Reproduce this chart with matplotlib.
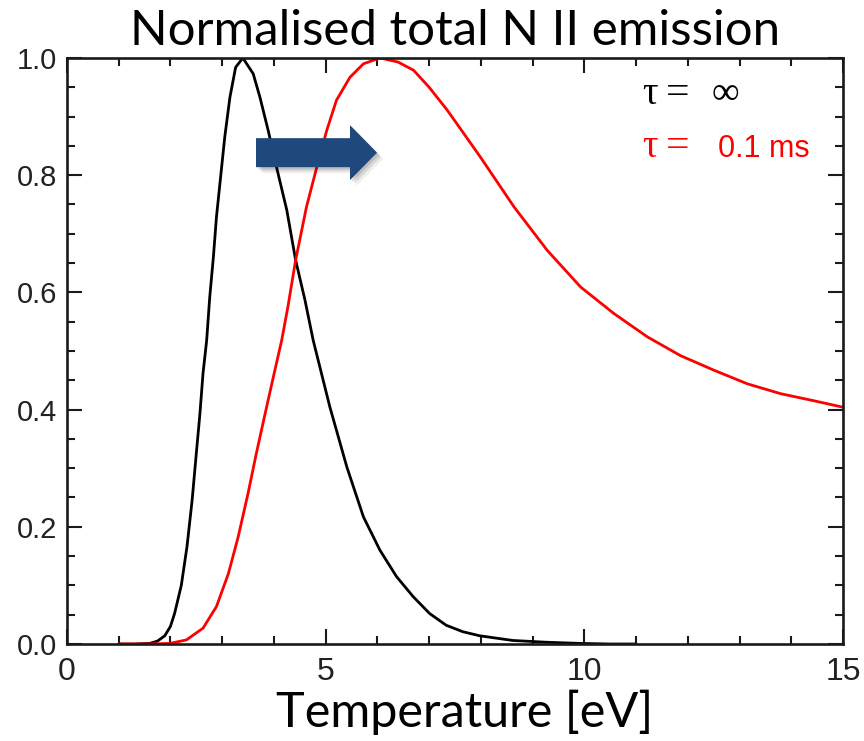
import matplotlib
matplotlib.use("Agg")
import matplotlib.pyplot as plt
import matplotlib.patches as mpatches
import matplotlib.patheffects as pe
from matplotlib import font_manager
from matplotlib.ticker import MultipleLocator

# Normalised total N II emission vs electron temperature
temp_inf = [1.0, 1.3, 1.6, 1.75, 1.89, 2.0, 2.08, 2.21, 2.32, 2.42, 2.50, 2.57,
            2.63, 2.70, 2.76, 2.83, 2.89, 2.97, 3.05, 3.15, 3.26, 3.40, 3.60,
            3.73, 3.89, 4.05, 4.25, 4.42, 4.60, 4.76, 5.08, 5.41, 5.73, 6.05,
            6.37, 6.69, 7.01, 7.33, 7.65, 7.98, 8.62, 9.27, 9.91, 10.5, 11.0]
emis_inf = [0.0, 0.0, 0.001, 0.005, 0.014, 0.030, 0.052, 0.100, 0.166, 0.246,
            0.325, 0.393, 0.462, 0.518, 0.592, 0.660, 0.729, 0.797, 0.865,
            0.933, 0.984, 1.0, 0.973, 0.933, 0.876, 0.814, 0.740, 0.655,
            0.587, 0.518, 0.405, 0.302, 0.217, 0.160, 0.115, 0.081, 0.052,
            0.032, 0.021, 0.014, 0.006, 0.003, 0.001, 0.0, 0.0]

temp_01ms = [1.0, 1.5, 1.99, 2.31, 2.63, 2.89, 3.12, 3.31, 3.50, 3.66, 3.83,
             3.99, 4.15, 4.27, 4.42, 4.63, 4.83, 5.02, 5.21, 5.47, 5.73, 6.05,
             6.40, 6.70, 7.00, 7.35, 7.99, 8.64, 9.28, 9.93, 10.57, 11.22,
             11.86, 12.51, 13.15, 13.80, 14.44, 15.0]
emis_01ms = [0.0, 0.0, 0.001, 0.007, 0.027, 0.064, 0.120, 0.183, 0.257, 0.325,
             0.393, 0.456, 0.518, 0.575, 0.655, 0.746, 0.814, 0.876, 0.928,
             0.967, 0.990, 1.0, 0.993, 0.979, 0.950, 0.911, 0.831, 0.746,
             0.672, 0.609, 0.564, 0.524, 0.492, 0.467, 0.444, 0.427, 0.415,
             0.404]

x_ticks = [0, 5, 10, 15]
y_ticks = [0.0, 0.2, 0.4, 0.6, 0.8, 1.0]
y_tick_labels = ["0.0", "0.2", "0.4", "0.6", "0.8", "1.0"]


def pick_font(candidates):
    for name in candidates:
        try:
            font_manager.findfont(font_manager.FontProperties(family=name),
                                  fallback_to_default=False)
            return name
        except Exception:
            continue
    return "DejaVu Sans"


sans = pick_font(["Liberation Sans", "DejaVu Sans"])
narrow = pick_font(["Liberation Sans Narrow", "Liberation Sans"])
serif = pick_font(["Liberation Serif", "DejaVu Serif"])
heading = pick_font(["Lato", "Open Sans", "DejaVu Sans"])

fig = plt.figure(figsize=(8.64, 7.41), dpi=100)
ax = fig.add_axes([0.0775, 0.1309, 0.8982, 0.7909])

ax.plot(temp_inf, emis_inf, color="black", lw=2.0,
        solid_joinstyle="round", solid_capstyle="round")
ax.plot(temp_01ms, emis_01ms, color="#ff0000", lw=2.0,
        solid_joinstyle="round", solid_capstyle="round")

ax.set_xlim(0, 15)
ax.set_ylim(0, 1.0)
ax.set_xticks(x_ticks)
ax.set_yticks(y_ticks)
ax.set_yticklabels(y_tick_labels)
ax.xaxis.set_minor_locator(MultipleLocator(1))
ax.yaxis.set_minor_locator(MultipleLocator(0.05))

for s in ax.spines.values():
    s.set_linewidth(1.9)
    s.set_color("#1a1a1a")

ax.tick_params(which="both", direction="in", top=True, right=True,
               width=1.5, color="#1a1a1a")
ax.tick_params(which="major", length=11)
ax.tick_params(which="minor", length=6)
ax.tick_params(axis="y", which="major", pad=7, labelsize=21)
ax.tick_params(axis="x", which="major", pad=9, labelsize=23)
for lab in ax.get_yticklabels():
    lab.set_family(sans)
    lab.set_color("#222222")
for lab in ax.get_xticklabels():
    lab.set_family(narrow)
    lab.set_color("#222222")

ax.set_title("Normalised total N II emission", family=heading, fontsize=35.5,
             pad=9)
ax.set_xlabel("Temperature [eV]", family=heading, fontsize=35)
ax.xaxis.set_label_coords(0.512, -0.078)
ax.xaxis.label.set_va("top")

# lifetime annotations
ax.text(0.741, 0.9215, "\u03c4", transform=ax.transAxes, family=serif,
        fontsize=28, color="black", va="baseline", ha="left")
ax.text(0.772, 0.9215, "=", transform=ax.transAxes, family=serif,
        fontsize=30, color="black", va="baseline", ha="left")
ax.text(0.831, 0.9215, "\u221e", transform=ax.transAxes, family=serif,
        fontsize=28, color="black", va="baseline", ha="left")
ax.text(0.741, 0.8316, "\u03c4", transform=ax.transAxes, family=serif,
        fontsize=28, color="#ff0000", va="baseline", ha="left")
ax.text(0.772, 0.8316, "=", transform=ax.transAxes, family=serif,
        fontsize=30, color="#ff0000", va="baseline", ha="left")
ax.text(0.839, 0.8316, "0.1 ms", transform=ax.transAxes, family=sans,
        fontsize=22, color="#ff0000", va="baseline", ha="left")

# shift arrow
arrow_x0, arrow_x1, arrow_y = 3.654, 5.993, 0.8384
arrow = mpatches.FancyArrow(arrow_x0, arrow_y, arrow_x1 - arrow_x0, 0,
                            width=0.0495, head_width=0.0939, head_length=0.522,
                            length_includes_head=True, color="#1f497d",
                            lw=0, zorder=5)
arrow.set_path_effects([
    pe.SimplePatchShadow(offset=(1.5, -1.5), shadow_rgbFace="black", alpha=0.12),
    pe.SimplePatchShadow(offset=(3, -3), shadow_rgbFace="black", alpha=0.10),
    pe.SimplePatchShadow(offset=(4.5, -4.5), shadow_rgbFace="black", alpha=0.06),
    pe.Normal(),
])
ax.add_patch(arrow)

fig.savefig("out.png", dpi=100)
